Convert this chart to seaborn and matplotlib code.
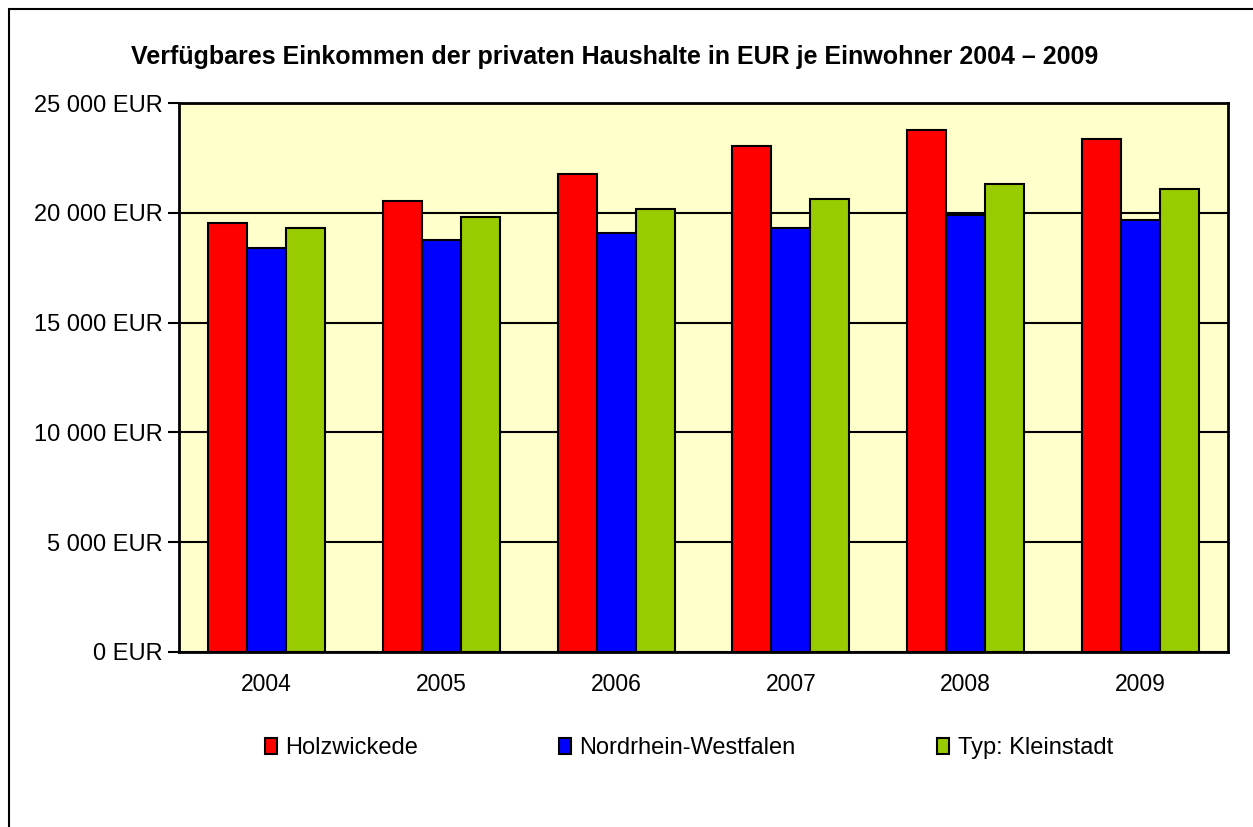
import pandas as pd
import seaborn as sns
import matplotlib.pyplot as plt
import matplotlib.ticker as ticker
from matplotlib.patches import Rectangle

years = ["2004", "2005", "2006", "2007", "2008", "2009"]
holzwickede = [19550, 20520, 21760, 23060, 23760, 23360]
nrw = [18380, 18760, 19060, 19320, 19880, 19670]
kleinstadt = [19290, 19790, 20180, 20650, 21330, 21090]
series = ["Holzwickede", "Nordrhein-Westfalen", "Typ: Kleinstadt"]
colors = ["#FF0000", "#0000FF", "#99CC00"]


def main():
    df = pd.DataFrame({"Jahr": years * 3,
                       "Wert": holzwickede + nrw + kleinstadt,
                       "Reihe": [s for s in series for _ in years]})

    sns.set_style("white")
    plt.rcParams['font.family'] = ['Liberation Sans', 'DejaVu Sans']
    plt.rcParams['text.color'] = 'black'
    plt.rcParams['xtick.color'] = 'black'
    plt.rcParams['ytick.color'] = 'black'

    fig = plt.figure(figsize=(12.53, 8.27), dpi=100)
    ax = fig.add_axes([179 / 1253, 1 - 652 / 827, (1228 - 179) / 1253, (652 - 103) / 827])
    ax.set_facecolor("#FFFFCC")

    sns.barplot(data=df, x="Jahr", y="Wert", hue="Reihe", palette=colors, saturation=1,
                width=0.67, edgecolor="black", linewidth=1.5, ax=ax, zorder=3)

    ax.set_ylim(0, 25000)
    ax.set_yticks(range(0, 25001, 5000))
    ax.yaxis.set_major_formatter(ticker.FuncFormatter(
        lambda v, p: f"{int(v):,} EUR".replace(",", " ")))
    ax.yaxis.grid(True, color="black", linewidth=1.5, zorder=0)
    ax.set_axisbelow(True)
    ax.tick_params(axis="y", length=8, width=1.5, direction="out", left=True,
                   labelsize=17, pad=4)
    ax.tick_params(axis="x", length=0, labelsize=16.5, pad=15)
    for s in ax.spines.values():
        s.set_color("black")
        s.set_linewidth(2)
    ax.set_xlabel("")
    ax.set_ylabel("")

    ax.legend(loc="center", bbox_to_anchor=(0.486, -0.175), ncol=3, frameon=False,
              fontsize=17, handlelength=0.5, handleheight=0.7, handletextpad=0.35,
              columnspacing=6.0, borderpad=0)

    fig.text(615 / 1253, 1 - 57 / 827, "Verfügbares Einkommen der privaten Haushalte in EUR je Einwohner 2004 – 2009",
             ha="center", va="center", fontsize=18, fontweight="bold")

    # outer frame (runs off the right and bottom edge)
    fig.patches.append(Rectangle((9 / 1253, -0.05), 1.1, 1 - 9 / 827 + 0.05,
                                 transform=fig.transFigure, fill=False,
                                 edgecolor="black", linewidth=1.5))

    fig.savefig("out.png", dpi=100)


if __name__ == '__main__':
    main()
